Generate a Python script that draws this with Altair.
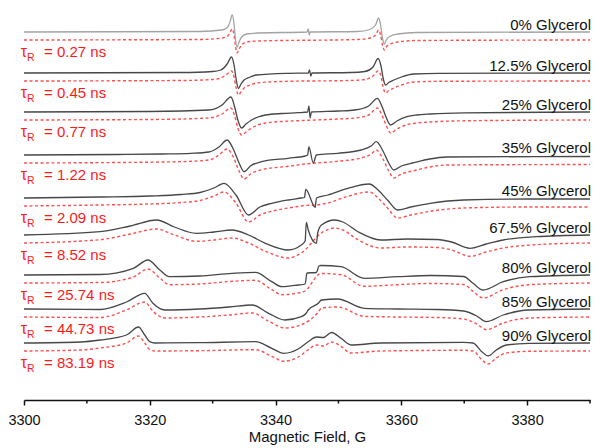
import altair as alt
import pandas as pd

# ---- data (field in G, amplitude in a.u.) ----
FIELD_0 = [3300, 3328, 3331.5, 3332.4, 3332.8, 3333.1, 3333.4, 3333.6, 3333.9, 3334.2, 3334.6, 3335.4, 3337.3, 3345.0, 3345.2, 3345.35, 3345.5, 3353, 3355, 3355.9, 3356.4, 3356.7, 3357.0, 3357.3, 3357.6, 3358.3, 3359.4, 3362.5, 3390]
EXP_0 = [0, 0.5, 2, 5, 11, 17, 8, -6, -15, -10, -5, -2, -1, 0, 3, -3, 0, 0.5, 2.5, 7, 14, 7, -6, -12, -8, -4, -2, -0.5, 0]
SIM_0 = [0, 0.5, 2, 4, 8, 11, 5, -5, -13, -9, -5, -2, -1, None, None, None, None, 0.5, 2, 5, 10, 5, -5, -10, -7, -4, -2, -0.5, 0]

FIELD_1 = [3300, 3325, 3330, 3331.3, 3332.3, 3333.0, 3333.4, 3333.7, 3334.1, 3334.5, 3335.0, 3336.0, 3336.9, 3342, 3345.2, 3345.4, 3345.6, 3345.8, 3352, 3354.2, 3355.5, 3356.3, 3356.8, 3357.1, 3357.5, 3358.0, 3358.8, 3360, 3362, 3366, 3390]
EXP_1 = [0, 0.5, 1.5, 3, 9, 16, 8, -5, -15.5, -11, -7, -4, -2, -0.3, 0, 3, -3, 0, 0.5, 1.5, 6, 14.5, 6, -5, -12, -9.5, -7, -4, -1, -0.3, 0]
SIM_1 = [0, 0.5, 1.5, 3, 7, 10, 4, -6, -14, -11, -7, -4, -2, -0.3, None, None, None, None, 0.5, 1.5, 5, 10, 4, -6, -12, -9.5, -7, -4, -1, -0.3, 0]

FIELD_2 = [3300, 3320, 3329.4, 3331.5, 3332.9, 3333.5, 3334.0, 3334.6, 3335.3, 3336.2, 3337.2, 3338.4, 3341, 3343.6, 3345.1, 3345.3, 3345.5, 3345.7, 3350, 3352.6, 3354.8, 3356.2, 3356.9, 3357.5, 3358.3, 3359.3, 3360.9, 3362.5, 3364.6, 3370, 3390]
EXP_2 = [0, 0.5, 2, 7, 15, 5, -8, -16, -12, -8, -5, -3, -1.5, -0.7, 0, 6, -6, 0, 1, 2, 6, 13.7, 6, -4, -13, -9, -4.7, -3, -2, -0.8, 0]
SIM_2 = [0, 0.5, 2, 6, 12, 4, -8, -15, -12, -8, -5, -3, -1.5, -0.7, None, None, None, None, 1, 2, 5, 12, 5, -4, -13, -9, -4.7, -3, -2, -0.8, 0]

FIELD_3 = [3300, 3315, 3322, 3326.5, 3329.4, 3331, 3332.3, 3333.2, 3334.2, 3335.0, 3336.0, 3337.8, 3342.0, 3344.7, 3345.1, 3345.3, 3346.0, 3346.5, 3349.9, 3353.6, 3355.2, 3356.0, 3357.0, 3358.0, 3358.8, 3360, 3362.0, 3364.5, 3367.2, 3390]
EXP_3 = [0, 0.5, 1, 1.7, 3, 8, 15, 7, -8, -16.7, -11, -6.7, -3.3, -1, 0, 8, -8, 0, 1.7, 5, 9, 13.3, 5, -8, -15, -11, -7.7, -4, -2, -1.5]
SIM_3 = [0, 0.5, 1, 1.7, 3, 8, 14, 7, -8, -16, -11, -6.7, -3.3, -1, None, None, None, None, 1.7, 5, 9, 13, 5, -8, -15, -11, -7.7, -4, -2, -1.5]

FIELD_4 = [3300, 3312, 3320, 3325, 3328, 3330.2, 3331.8, 3333.7, 3335.7, 3337.5, 3339.4, 3342, 3344.1, 3344.6, 3344.8, 3346.3, 3346.5, 3348.3, 3351.5, 3354.9, 3356.3, 3357.8, 3359.4, 3361.5, 3364.6, 3369.9, 3380.3, 3390]
EXP_4 = [0, 1, 2, 3.5, 5.5, 10, 14.7, 3, -17, -9, -5.3, -2, 0, 0.5, 8.7, -9.3, 0, 3, 9.7, 14, 8, -2, -12, -9, -5.3, -2, -1, -1]
SIM_4 = [0, 1, 2, 3.5, 5.5, 10, 14, 3, -16, -9, -5.3, -2, 0, 0.5, None, None, 1, 3, 9.7, 14, 8, -2, -12, -9, -5.3, -2, -1, -1]

FIELD_5 = [3300, 3312.1, 3316.9, 3321.1, 3323.9, 3327.4, 3330.2, 3333.1, 3335.7, 3338.4, 3342.0, 3344.1, 3344.7, 3344.9, 3345.2, 3346.5, 3346.7, 3347.3, 3349.4, 3350.7, 3353.1, 3356.7, 3360.9, 3365.7, 3368.0, 3370.9, 3373.5, 3376.2, 3381.4, 3390]
EXP_5 = [0, 3.3, 9, 15, 8, 1.7, 3, 5, 0, -8.3, -15, -10, -6, 12.7, 5, -8.3, 2, 10, 15, 13, 3.3, -5, -4, -4.5, -7, -13.3, -9, -5, -1.7, 0]
SIM_5 = [0, 3.3, 9, 14, 8, 1.7, 3, 5, 0, -8.3, -15, -10, None, None, None, None, None, 10, 15, 13, 3.3, -5, -4, -4.5, -7, -13.3, -9, -5, -1.7, 0]

FIELD_6 = [3300, 3312.1, 3317.4, 3319.7, 3321.6, 3323.1, 3327.9, 3333.1, 3336.8, 3339.4, 3341.0, 3343.6, 3344.7, 3345.0, 3346.5, 3346.9, 3347.2, 3350.4, 3354.1, 3359.4, 3364.6, 3369.9, 3371.4, 3373.0, 3376.2, 3380.4, 3390]
EXP_6 = [0, 0.5, 6.7, 15, 5, -1.7, -1, 1.7, 2.7, -6.7, -11.7, -10, -9, 2, 2.5, 9, 9.5, 8.3, -3.3, -1.7, -0.5, -1.5, -8.3, -15, -6.7, -1.7, 0]
SIM_6 = [0, 0.5, 6, 14, 5, -1.7, -1, 1.7, 2.7, -6.7, -11.7, -10, -8, None, None, None, 9.5, 8.3, -3.3, -1.7, -0.5, -1.5, -8.3, -15, -6.7, -1.7, 0]

FIELD_7 = [3300, 3312.1, 3316.3, 3319.2, 3320.5, 3322.4, 3327.9, 3332.6, 3336.3, 3338.9, 3341.5, 3344.1, 3344.9, 3345.2, 3346.8, 3347.3, 3349.9, 3354.1, 3359.4, 3365.7, 3369.9, 3372.0, 3373.5, 3376.2, 3380.3, 3390]
EXP_7 = [0, -0.5, 7, 15.7, 5.7, -1, 0, 2, 4, -4.3, -11, -7.7, -4, -1, 5.7, 9, 10, 0.7, 0, -0.5, -2, -7, -12.7, -6, -1, 0]
SIM_7 = [0, -0.5, 7, 15, 5.7, -1, 0, 2, 4, -4.3, -11, -7.7, None, None, 5, 9, 10, 0.7, 0, -0.5, -2, -7, -12.7, -6, -1, 0]

FIELD_8 = [3300, 3309.0, 3312.1, 3316.3, 3318.2, 3319.2, 3320.0, 3320.8, 3327.9, 3336.8, 3339.4, 3341.3, 3343.6, 3345.2, 3346.5, 3347.6, 3348.9, 3350.4, 3352.0, 3356.7, 3369.9, 3371.4, 3372.8, 3373.8, 3375.1, 3376.7, 3380.3, 3390]
EXP_8 = [0, 1, 3, 8, 16, 8, 1.3, 0, 0.3, 1.3, -5.3, -10.3, -6, 1.3, 6, 5.5, 10.5, 4.7, -2, 0, 0.7, 0, -8.7, -13, -7, -2, -0.3, 0]
SIM_8 = [0, 1, 3, 8, 15, 8, 1.3, 0, 0.3, 1.3, -5.3, -10.3, -6, 1.3, 6, 5, 9, 4.7, -2, 0, 0.7, 0, -8.7, -13, -7, -2, -0.3, 0]

GLYCEROL = ["0% Glycerol", "12.5% Glycerol", "25% Glycerol", "35% Glycerol", "45% Glycerol",
            "67.5% Glycerol", "80% Glycerol", "85% Glycerol", "90% Glycerol"]
TAU_R = ["0.27", "0.45", "0.77", "1.22", "2.09", "8.52", "25.74", "44.73", "83.19"]
MINOR_TICKS = [3310, 3330, 3350, 3370, 3390]
MAJOR_TICKS = [3300, 3320, 3340, 3360, 3380]

# ---- layout (stacking offsets, a.u.) ----
EXP_OFFSET = [368, 327, 288, 245, 202, 165, 125, 91, 57]
SIM_SHIFT = 8
RED = "#ff1a1a"

FIELDS = [FIELD_0, FIELD_1, FIELD_2, FIELD_3, FIELD_4, FIELD_5, FIELD_6, FIELD_7, FIELD_8]
EXPS = [EXP_0, EXP_1, EXP_2, EXP_3, EXP_4, EXP_5, EXP_6, EXP_7, EXP_8]
SIMS = [SIM_0, SIM_1, SIM_2, SIM_3, SIM_4, SIM_5, SIM_6, SIM_7, SIM_8]

exp_rows, sim_rows = [], []
for i, (F, E, S) in enumerate(zip(FIELDS, EXPS, SIMS)):
    col = "#a3a3a3" if i == 0 else "#474747"
    for f, e, s in zip(F, E, S):
        exp_rows.append({"field": f, "v": EXP_OFFSET[i] + e, "sid": f"e{i}", "col": col})
        if s is not None:
            sim_rows.append({"field": f, "v": EXP_OFFSET[i] - SIM_SHIFT + s, "sid": f"s{i}"})
exp_df = pd.DataFrame(exp_rows)
sim_df = pd.DataFrame(sim_rows)
gly_df = pd.DataFrame({"text": GLYCEROL, "v": [o + 2 for o in EXP_OFFSET]})
tau_df = pd.DataFrame({"text": [f"= {t} ns" for t in TAU_R],
                       "v": [o - SIM_SHIFT - 17 for o in EXP_OFFSET]})
tick_df = pd.DataFrame({"field": MINOR_TICKS})

FONT = "Arial"
XS = alt.Scale(domain=[3300, 3390], nice=False, zero=False)
YS = alt.Scale(domain=[0, 392], nice=False, zero=False)
XAXIS = alt.Axis(values=MAJOR_TICKS, format="d", tickSize=5, tickWidth=1.5, tickColor="#111",
                 domainColor="#111", domainWidth=1.6, grid=False, labelFlush=False,
                 labelFont=FONT, labelFontSize=14.5, labelColor="#111", labelPadding=8,
                 title="Magnetic Field, G", titleFont=FONT, titleFontSize=15,
                 titleFontWeight="normal", titleColor="#111", titlePadding=3)
X = alt.X("field:Q", scale=XS, axis=XAXIS)
Y = alt.Y("v:Q", scale=YS, axis=None)

sim = alt.Chart(sim_df).mark_line(color="#ff5050", strokeWidth=1.4, strokeDash=[3, 2.5],
                                  interpolate="monotone").encode(
    x=X, y=Y, detail="sid:N")
exp = alt.Chart(exp_df).mark_line(strokeWidth=1.3, interpolate="monotone").encode(
    x=X, y=Y, detail="sid:N", color=alt.Color("col:N", scale=None))
minor = alt.Chart(tick_df).mark_rule(color="#111", strokeWidth=1.5).encode(
    x=X, y=alt.value(392), y2=alt.value(395.5))

XL = alt.XDatum(3300, type="quantitative", scale=XS, axis=XAXIS)
XR = alt.XDatum(3390, type="quantitative", scale=XS, axis=XAXIS)
gly = alt.Chart(gly_df).mark_text(align="right", baseline="alphabetic", font=FONT, fontSize=15,
                                   color="#111", dx=1).encode(x=XR, y=Y, text="text:N")
tau1 = alt.Chart(tau_df).mark_text(text="τ", align="right", baseline="alphabetic", font=FONT,
                                   fontSize=16, color=RED, dx=3).encode(x=XL, y=Y)
tau2 = alt.Chart(tau_df).mark_text(text="R", align="left", baseline="alphabetic", font=FONT,
                                   fontSize=10.5, color=RED, dx=3, dy=3.5).encode(x=XL, y=Y)
tau3 = alt.Chart(tau_df).mark_text(align="left", baseline="alphabetic", font=FONT,
                                   fontSize=15, color=RED, dx=20).encode(x=XL, y=Y, text="text:N")

chart = alt.layer(sim, exp, minor, gly, tau1, tau2, tau3).properties(
    width=566, height=392,
    padding={"left": 16, "top": 0, "right": 2, "bottom": 48},
    autosize=alt.AutoSizeParams(type="none"),
).configure_view(stroke=None)

chart.save("out.html", embed_options={"renderer": "svg", "actions": False})
